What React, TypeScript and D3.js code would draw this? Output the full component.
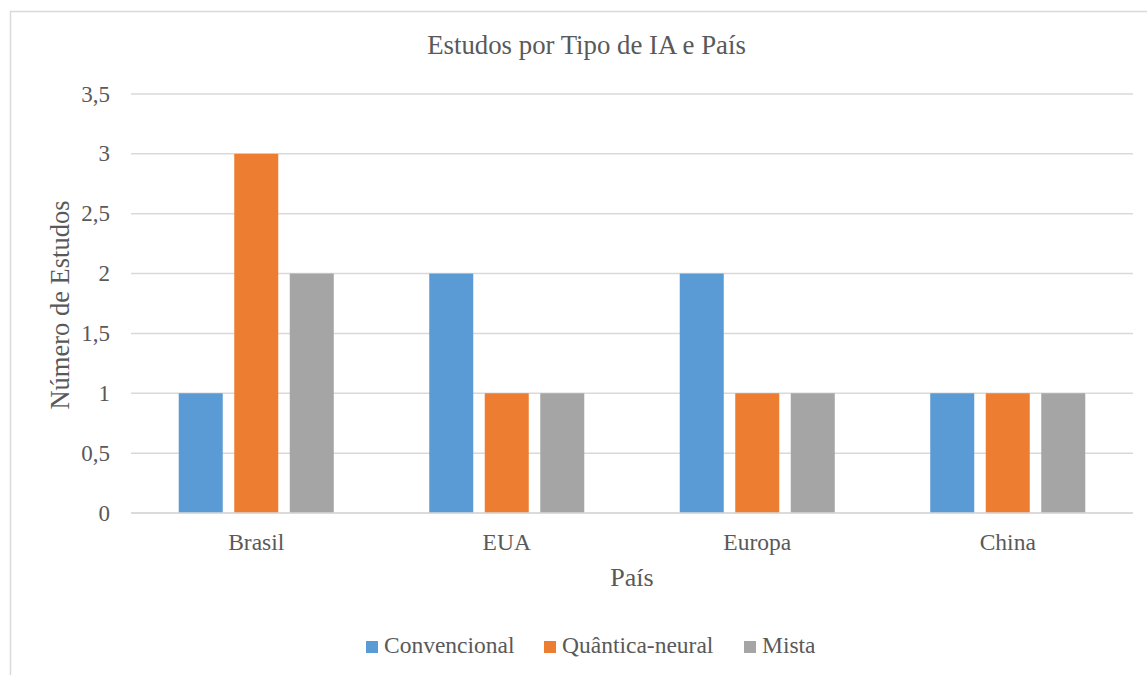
import React from "react";
import * as d3 from "d3";

const categories = ["Brasil", "EUA", "Europa", "China"];
const seriesNames = ["Convencional", "Quântica-neural", "Mista"];
const convencional = [1, 2, 2, 1];
const quanticaNeural = [3, 1, 1, 1];
const mista = [2, 1, 1, 1];
const yTicks = [0, 0.5, 1, 1.5, 2, 2.5, 3, 3.5];
const colors = ["#5B9BD5", "#ED7D31", "#A5A5A5"];

const W = 1147;
const H = 675;
const FONT = '"Liberation Serif", "Times New Roman", Times, serif';
const TEXT = "#595959";

export default function App() {
  const seriesValues = [convencional, quanticaNeural, mista];
  const x0 = d3.scaleBand<string>().domain(categories).range([131, 1133]).padding(0);
  const x1 = d3
    .scaleBand<string>()
    .domain(seriesNames)
    .range([0, x0.bandwidth()])
    .paddingInner(0.207)
    .paddingOuter(0.86);
  const y = d3.scaleLinear().domain([0, 3.5]).range([513, 94]);
  const fmt = (v: number) => String(v).replace(".", ",");

  const legendItems = [
    { name: seriesNames[0], x: 366 },
    { name: seriesNames[1], x: 544 },
    { name: seriesNames[2], x: 744 },
  ];
  const ts = { fontFamily: FONT };

  return (
    <svg
      width={W}
      height={H}
      style={{ position: "absolute", left: 0, top: 0, background: "#fff", fontFamily: FONT }}
    >
      <rect x={0} y={0} width={W} height={H} fill="#fff" />
      <rect x={10.5} y={11.5} width={W + 20} height={H + 20} fill="none" stroke="#D9D9D9" strokeWidth={1.5} />
      <text x={586.5} y={54} textAnchor="middle" fontSize={26.8} fill={TEXT} style={ts}>
        Estudos por Tipo de IA e País
      </text>
      {yTicks.map((t) => (
        <g key={t}>
          <line x1={131} x2={1133} y1={y(t)} y2={y(t)} stroke="#D9D9D9" strokeWidth={1.5} />
          <text x={110} y={y(t)} dy="0.33em" textAnchor="end" fontSize={23} fill={TEXT} style={ts}>
            {fmt(t)}
          </text>
        </g>
      ))}
      {categories.map((c, i) => (
        <g key={c} transform={`translate(${x0(c)},0)`}>
          {seriesNames.map((s, j) => (
            <rect
              key={s}
              x={x1(s)}
              y={y(seriesValues[j][i])}
              width={x1.bandwidth()}
              height={y(0) - y(seriesValues[j][i])}
              fill={colors[j]}
            />
          ))}
          <text x={x0.bandwidth() / 2} y={550} textAnchor="middle" fontSize={23.5} fill={TEXT} style={ts}>
            {c}
          </text>
        </g>
      ))}
      <line x1={131} x2={1133} y1={y(0)} y2={y(0)} stroke="#D9D9D9" strokeWidth={1.5} />
      <text x={632} y={586} textAnchor="middle" fontSize={26} fill={TEXT} style={ts}>
        País
      </text>
      <text transform={`translate(69,305) rotate(-90)`} textAnchor="middle" fontSize={26.5} fill={TEXT} style={ts}>
        Número de Estudos
      </text>
      {legendItems.map((l, i) => (
        <g key={l.name}>
          <rect x={l.x} y={641} width={12} height={12} fill={colors[i]} />
          <text x={l.x + 18} y={653} fontSize={23.5} fill={TEXT} style={ts}>
            {l.name}
          </text>
        </g>
      ))}
    </svg>
  );
}
